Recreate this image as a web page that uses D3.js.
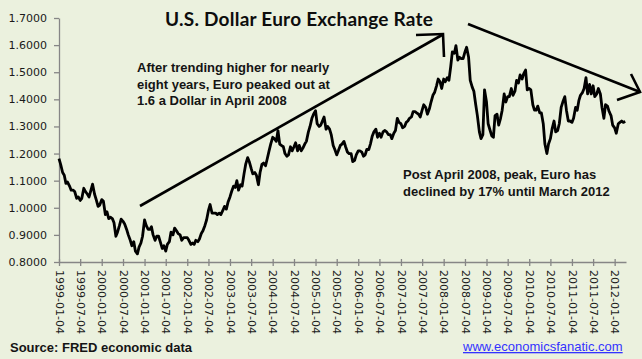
<!DOCTYPE html>
<html><head><meta charset="utf-8">
<script src="https://cdn.jsdelivr.net/npm/d3@7/dist/d3.min.js"></script>
<style>html,body{margin:0;padding:0;background:#EBF1DE;} svg{display:block}</style>
</head><body>
<svg id="chart" width="642" height="359"></svg>
<script>
const v1999 = [1.181,1.160,1.130,1.120,1.090,1.095,1.080,1.065,1.065,1.060,1.035,1.040,1.027,1.035,1.072,1.060,1.050,1.040,1.065,1.087,1.050,1.030,1.005,1.010];
const v2000 = [1.030,1.025,0.975,0.985,0.960,0.965,0.960,0.945,0.895,0.910,0.935,0.958,0.950,0.940,0.920,0.900,0.880,0.860,0.875,0.840,0.830,0.855,0.870,0.895];
const v2001 = [0.955,0.935,0.920,0.920,0.930,0.900,0.880,0.895,0.895,0.875,0.850,0.860,0.840,0.865,0.875,0.910,0.900,0.925,0.915,0.905,0.900,0.880,0.890,0.890];
const v2002 = [0.890,0.880,0.865,0.870,0.865,0.880,0.875,0.885,0.905,0.915,0.935,0.955,0.990,1.012,0.980,0.980,0.980,0.975,0.980,0.975,0.990,1.005,0.995,1.020];
const v2003 = [1.040,1.060,1.080,1.075,1.100,1.065,1.085,1.080,1.125,1.160,1.185,1.170,1.145,1.125,1.130,1.120,1.085,1.130,1.160,1.165,1.155,1.180,1.210,1.235];
const v2004 = [1.260,1.255,1.245,1.285,1.235,1.230,1.225,1.200,1.190,1.195,1.225,1.210,1.225,1.240,1.210,1.230,1.210,1.220,1.235,1.245,1.280,1.300,1.330,1.345];
const v2005 = [1.358,1.310,1.300,1.305,1.320,1.335,1.290,1.300,1.290,1.270,1.230,1.215,1.195,1.210,1.230,1.235,1.245,1.225,1.205,1.200,1.200,1.170,1.175,1.195];
const v2006 = [1.210,1.210,1.205,1.190,1.195,1.215,1.215,1.235,1.265,1.280,1.290,1.260,1.275,1.260,1.280,1.285,1.280,1.270,1.270,1.255,1.275,1.285,1.330,1.315];
const v2007 = [1.310,1.295,1.300,1.315,1.320,1.330,1.335,1.355,1.355,1.350,1.345,1.335,1.360,1.380,1.370,1.345,1.365,1.390,1.415,1.425,1.450,1.475,1.465,1.440];
const v2008 = [1.475,1.465,1.480,1.470,1.520,1.575,1.570,1.598,1.545,1.555,1.550,1.550,1.575,1.592,1.555,1.470,1.445,1.430,1.380,1.340,1.280,1.255,1.270,1.435];
const v2009 = [1.390,1.310,1.285,1.265,1.260,1.340,1.345,1.305,1.330,1.360,1.420,1.390,1.410,1.410,1.440,1.415,1.430,1.470,1.460,1.490,1.475,1.495,1.508,1.435];
const v2010 = [1.440,1.435,1.380,1.360,1.360,1.375,1.350,1.350,1.310,1.235,1.200,1.235,1.255,1.290,1.320,1.280,1.285,1.310,1.370,1.390,1.410,1.360,1.320,1.320];
const v2011 = [1.315,1.330,1.370,1.360,1.395,1.415,1.425,1.440,1.480,1.420,1.455,1.420,1.450,1.410,1.420,1.440,1.420,1.370,1.330,1.380,1.375,1.355,1.340,1.305];
const v2012 = [1.295,1.275,1.310,1.315,1.320,1.315,1.318];
const seriesYears = [1999,2000,2001,2002,2003,2004,2005,2006,2007,2008,2009,2010,2011,2012];
const obsDays = [4, 18];

const yTickValues = [0.8,0.9,1.0,1.1,1.2,1.3,1.4,1.5,1.6,1.7];
const xTickLabels = ["1999-01-04","1999-07-04","2000-01-04","2000-07-04","2001-01-04","2001-07-04","2002-01-04","2002-07-04","2003-01-04","2003-07-04","2004-01-04","2004-07-04","2005-01-04","2005-07-04","2006-01-04","2006-07-04","2007-01-04","2007-07-04","2008-01-04","2008-07-04","2009-01-04","2009-07-04","2010-01-04","2010-07-04","2011-01-04","2011-07-04","2012-01-04"];
const xDomainLabels = ["1999-01-04","2012-04-10"];

const titleText = "U.S. Dollar Euro Exchange Rate";
const note1 = ["After trending higher for nearly","eight years, Euro peaked out at","1.6 a Dollar in April 2008"];
const note2 = ["Post April 2008, peak, Euro has","declined by 17% until March 2012"];
const sourceText = "Source: FRED economic data";
const linkText = "www.economicsfanatic.com";

// ---- BUILD ----
const yearArrays = [v1999,v2000,v2001,v2002,v2003,v2004,v2005,v2006,v2007,v2008,v2009,v2010,v2011,v2012];
const parse = d3.timeParse("%Y-%m-%d");
const series = [];
yearArrays.forEach((arr, yi) => arr.forEach((v, i) => {
  series.push({date: new Date(seriesYears[yi], Math.floor(i/2), obsDays[i%2]), value: v});
}));

const svg = d3.select("#chart");
svg.append("rect").attr("width",642).attr("height",359).attr("fill","#EBF1DE");

const x = d3.scaleTime().domain(xDomainLabels.map(parse)).range([59, 626]);
const y = d3.scaleLinear().domain([0.8, 1.7]).range([262, 18]);

const axisColor = "#868686";
// Y axis
const gy = svg.append("g").attr("transform","translate(59,0)")
  .call(d3.axisLeft(y).tickValues(yTickValues).tickSize(5).tickSizeOuter(0).tickPadding(7).tickFormat(d3.format(".4f")));
gy.select(".domain").attr("stroke", axisColor).attr("stroke-width",1.3);
gy.selectAll(".tick line").attr("stroke", axisColor).attr("stroke-width",1.3);
gy.selectAll(".tick text").attr("font-family","'DejaVu Sans', Verdana, sans-serif").attr("font-size","11px").attr("fill","#1a1a1a");

// X axis
const gx = svg.append("g").attr("transform","translate(0,262)")
  .call(d3.axisBottom(x).tickValues(xTickLabels.map(parse)).tickSize(4).tickSizeOuter(0).tickFormat(d3.timeFormat("%Y-%m-%d")));
gx.select(".domain").attr("stroke", axisColor).attr("stroke-width",1.3);
gx.selectAll(".tick line").attr("stroke", axisColor).attr("stroke-width",1.3).attr("y1",-3);
gx.selectAll(".tick text")
  .attr("font-family","'DejaVu Sans', Verdana, sans-serif").attr("font-size","11px").attr("fill","#1a1a1a")
  .attr("transform","rotate(90)").attr("x",8).attr("y",0).attr("dy","0.35em").attr("text-anchor","start");

// Data line
svg.append("path").datum(series)
  .attr("fill","none").attr("stroke","#000").attr("stroke-width",2.8).attr("stroke-linejoin","round")
  .attr("d", d3.line().x(d => x(d.date)).y(d => y(d.value)));

// Title
svg.append("text").attr("x",165).attr("y",26).text(titleText)
  .attr("font-family","Lato, 'Open Sans', sans-serif").attr("font-weight","bold").attr("font-size","19px").attr("fill","#0d0d0d")
  .attr("textLength",268).attr("lengthAdjust","spacing");

// Notes
const noteFont = "'Liberation Sans', Arial, sans-serif";
svg.append("g").selectAll("text").data(note1).join("text")
  .attr("x",137).attr("y",(d,i)=>72+i*16.5).text(d=>d)
  .attr("font-family",noteFont).attr("font-weight","bold").attr("font-size","13px").attr("fill","#141414");
svg.append("g").selectAll("text").data(note2).join("text")
  .attr("x",403).attr("y",(d,i)=>179+i*16.5).text(d=>d)
  .attr("font-family",noteFont).attr("font-weight","bold").attr("font-size","13px").attr("fill","#141414");

// Arrows
const arrowStyle = s => s.attr("fill","none").attr("stroke","#000").attr("stroke-width",2.6).attr("stroke-linecap","butt").attr("stroke-linejoin","miter");
svg.append("line").attr("x1",140).attr("y1",206).attr("x2",442).attr("y2",35).call(arrowStyle);
svg.append("polyline").attr("points","416,35 443,34 444,57").call(arrowStyle);
svg.append("line").attr("x1",468).attr("y1",24).attr("x2",640).attr("y2",92).call(arrowStyle);
svg.append("polyline").attr("points","631,74 640,92 617,100").call(arrowStyle);

// Footer
svg.append("text").attr("x",10).attr("y",352).text(sourceText)
  .attr("font-family",noteFont).attr("font-weight","bold").attr("font-size","13px").attr("fill","#141414");
svg.append("text").attr("x",463).attr("y",351).text(linkText)
  .attr("font-family",noteFont).attr("font-size","13px").attr("fill","#3333ff").attr("text-decoration","underline");
</script>
</body></html>
